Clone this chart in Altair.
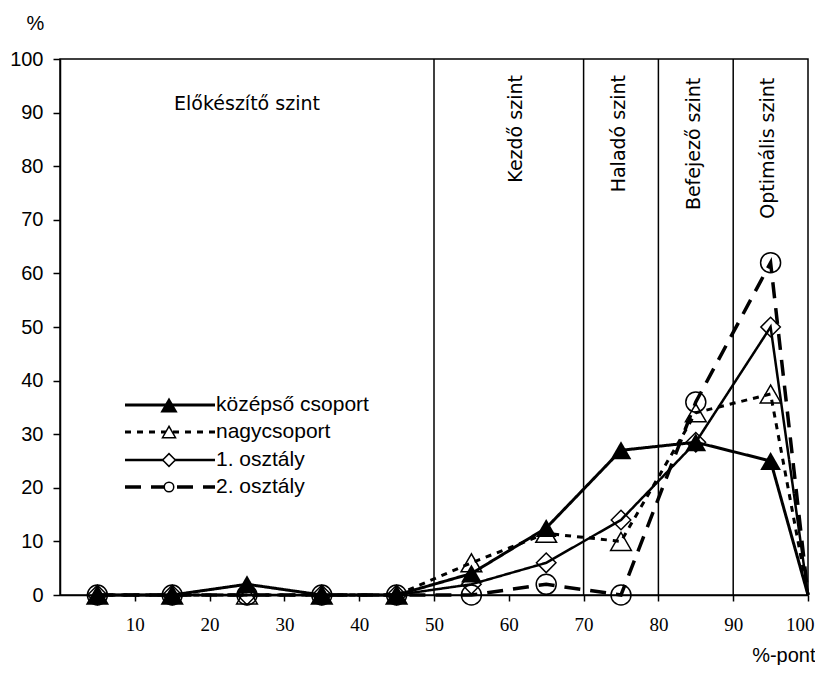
import altair as alt
import pandas as pd

# ---- data ----
x_vals = [5, 15, 25, 35, 45, 55, 65, 75, 85, 95, 100]
kozepso = [0, 0, 2, 0, 0, 4, 12.5, 27, 28.5, 25, 0]
nagycsoport = [0, 0, 0, 0, 0, 6, 11.5, 10, 34, 37.5, 0]
osztaly1 = [0, 0, 0, 0, 0, 2, 6, 14, 28.5, 50, 0]
osztaly2 = [0, 0, 0, 0, 0, 0, 2, 0, 36, 62, 0]
series_names = ["középső csoport", "nagycsoport", "1. osztály", "2. osztály"]
series_values = [kozepso, nagycsoport, osztaly1, osztaly2]

level_bounds = [50, 70, 80, 90]
level_labels = ["Kezdő szint", "Haladó szint", "Befejező szint", "Optimális szint"]
level_label_x = [61, 74.7, 84.7, 94.7]
level_label_y = [97, 97, 96.5, 96.5]
prep_label = ["Előkészítő szint"]
prep_label_x = [25]
prep_label_y = [91.6]

x_ticks = [10, 20, 30, 40, 50, 60, 70, 80, 90, 100]
y_ticks = [0, 10, 20, 30, 40, 50, 60, 70, 80, 90, 100]

# ---- styles ----
styles = {
    "középső csoport": dict(dash=[1, 0], width=3, shape="triangle-up", filled=True, size=430, lsize=300),
    "nagycsoport": dict(dash=[6, 6], width=3, shape="triangle-up", filled=False, size=430, lsize=170),
    "1. osztály": dict(dash=[1, 0], width=2.5, shape="diamond", filled=False, size=380, lsize=160),
    "2. osztály": dict(dash=[16, 10], width=3.5, shape="circle", filled=False, size=400, lsize=90),
}

x_enc = alt.X(
    "x:Q",
    scale=alt.Scale(domain=[0, 100], nice=False, zero=False),
    axis=alt.Axis(
        values=x_ticks, title="%-pont", grid=False,
        labelFont="Liberation Serif", labelFontSize=19, labelColor="black",
        labelPadding=14, tickSize=6, tickColor="black", tickWidth=1.5,
        domainColor="black", domainWidth=1.5,
        titleFont="Liberation Sans", titleFontSize=20, titleFontWeight="normal",
        titleColor="black", titleX=755, titleY=60, titleAlign="right",
        titleBaseline="middle", labelFlush=True, labelFlushOffset=6,
        labelOverlap=False,
    ),
)
y_enc = alt.Y(
    "y:Q",
    scale=alt.Scale(domain=[0, 100], nice=False),
    axis=alt.Axis(
        values=y_ticks, title="%", grid=False,
        labelFont="Liberation Sans", labelFontSize=20, labelColor="black",
        labelPadding=10, tickSize=7, tickColor="black", tickWidth=1.5,
        domainColor="black", domainWidth=1.5,
        titleFont="Liberation Sans", titleFontSize=20, titleFontWeight="normal",
        titleColor="black", titleAngle=0, titleX=-25, titleY=-36,
        titleAlign="center", titleBaseline="middle", labelFlush=False,
        labelOverlap=False,
    ),
)

layers = []

# level boundary rules
rules_df = pd.DataFrame({"x": level_bounds, "y": [0] * 4, "y2": [100] * 4})
layers.append(
    alt.Chart(rules_df).mark_rule(color="black", strokeWidth=1.5).encode(
        x=x_enc, y=y_enc, y2="y2:Q"
    )
)

# level labels
lab_df = pd.DataFrame({"x": level_label_x, "y": level_label_y, "t": level_labels})
layers.append(
    alt.Chart(lab_df).mark_text(
        angle=270, align="right", baseline="middle",
        font="DejaVu Sans", fontSize=19, color="black",
    ).encode(x=x_enc, y=y_enc, text="t:N")
)
prep_df = pd.DataFrame({"x": prep_label_x, "y": prep_label_y, "t": prep_label})
layers.append(
    alt.Chart(prep_df).mark_text(
        align="center", baseline="middle",
        font="DejaVu Sans", fontSize=19, color="black",
    ).encode(x=x_enc, y=y_enc, text="t:N")
)

# series
for name, vals in zip(series_names, series_values):
    st = styles[name]
    df = pd.DataFrame({"x": x_vals, "y": vals})
    line = alt.Chart(df).mark_line(
        color="black", strokeWidth=st["width"], strokeDash=st["dash"]
    ).encode(x=x_enc, y=y_enc, order="x:Q")
    base = alt.Chart(df).transform_filter("datum.x < 100")
    if st["filled"]:
        pts = base.mark_point(
            shape=st["shape"], size=st["size"], filled=True,
            color="black", opacity=1,
        )
    else:
        pts = base.mark_point(
            shape=st["shape"], size=st["size"], filled=False,
            color="black", strokeWidth=1.5, opacity=1,
        )
    layers.append(line)
    layers.append(pts.encode(x=x_enc, y=y_enc))

# custom legend (pixel positions relative to the plot area)
legend_rows_y = [346, 373, 401, 428]
for name, ry in zip(series_names, legend_rows_y):
    st = styles[name]
    one = pd.DataFrame({"label": [name]})
    layers.append(
        alt.Chart(one).mark_rule(
            color="black", strokeWidth=st["width"], strokeDash=st["dash"]
        ).encode(x=alt.value(65), x2=alt.value(155), y=alt.value(ry))
    )
    if st["filled"]:
        mk = alt.Chart(one).mark_point(
            shape=st["shape"], size=st["lsize"], filled=True, color="black", opacity=1
        )
    else:
        mk = alt.Chart(one).mark_point(
            shape=st["shape"], size=st["lsize"], filled=False, color="black",
            strokeWidth=1.5, opacity=1, fill="white", fillOpacity=1
        )
    layers.append(mk.encode(x=alt.value(109), y=alt.value(ry)))
    layers.append(
        alt.Chart(one).mark_text(
            align="left", baseline="middle", font="Liberation Sans",
            fontSize=21, color="black"
        ).encode(x=alt.value(156), y=alt.value(ry), text="label:N")
    )

chart = alt.layer(*layers).properties(
    width=748,
    height=536,
    autosize=alt.AutoSizeParams(type="none"),
    padding={"left": 52, "top": 51, "right": 7, "bottom": 70},
    background="white",
).configure_view(stroke="black", strokeWidth=1.5)

chart.save("out.html", embed_options={"renderer": "svg", "actions": False})
